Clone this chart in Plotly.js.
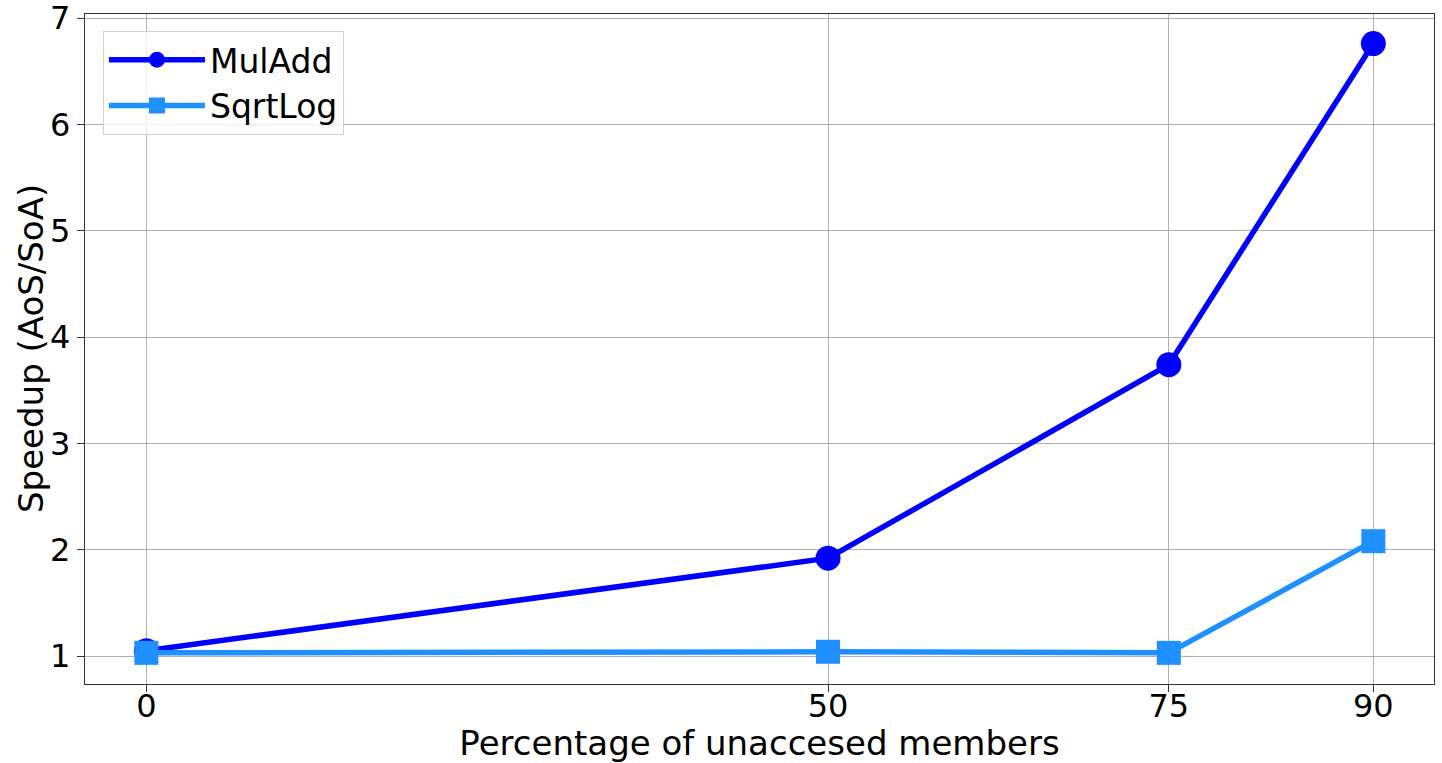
<!DOCTYPE html>
<html>
<head>
<meta charset="utf-8">
<script src="https://cdn.plot.ly/plotly-3.0.1.min.js"></script>
<style>html,body{margin:0;padding:0;background:#fff;}#chart{width:1442px;height:763px;}</style>
</head>
<body>
<div id="chart"></div>
<script>
const xValues = [0, 50, 75, 90];
const xTickLabels = ["0", "50", "75", "90"];
const mulAdd = [1.05, 1.92, 3.74, 6.76];
const sqrtLog = [1.03, 1.04, 1.03, 2.08];
const yTicks = [1, 2, 3, 4, 5, 6, 7];
const yTitle = "Speedup (AoS/SoA)";
const xTitle = "Percentage of unaccesed members";

const tickFont = {family: "DejaVu Sans, sans-serif", size: 32, color: "#000"};
const titleFont = {family: "DejaVu Sans, sans-serif", size: 34, color: "#000"};

const traces = [
  {x: xValues, y: mulAdd, name: "MulAdd", mode: "lines+markers",
   line: {color: "#0000ff", width: 5.5}, marker: {symbol: "circle", size: 25, color: "#0000ff"}},
  {x: xValues, y: sqrtLog, name: "SqrtLog", mode: "lines+markers",
   line: {color: "#1e90ff", width: 5.5}, marker: {symbol: "square", size: 24, color: "#1e90ff"}}
];

const layout = {
  width: 1442, height: 763,
  margin: {l: 85, r: 8, t: 14, b: 79},
  paper_bgcolor: "#fff", plot_bgcolor: "#fff",
  font: tickFont,
  showlegend: true,
  legend: {x: 0.0133, y: 0.975, xanchor: "left", yanchor: "top",
           bgcolor: "rgba(255,255,255,0.8)", bordercolor: "#d0d0d0", borderwidth: 1,
           font: {family: "DejaVu Sans, sans-serif", size: 33}, itemwidth: 96},
  xaxis: {
    range: [-4.5, 94.45], tickvals: xValues, ticktext: xTickLabels,
    showgrid: true, gridcolor: "#b0b0b0", gridwidth: 1,
    showline: true, linecolor: "#333", linewidth: 1.3, mirror: true,
    ticks: "outside", ticklen: 7, tickcolor: "#333", zeroline: false,
    tickfont: tickFont, ticklabeloverflow: "allow", ticklabelstandoff: -14,
    title: {text: xTitle, font: titleFont, standoff: 2}
  },
  yaxis: {
    range: [0.737, 7.038], tickvals: yTicks,
    showgrid: true, gridcolor: "#b0b0b0", gridwidth: 1,
    showline: true, linecolor: "#333", linewidth: 1.3, mirror: true,
    ticks: "outside", ticklen: 7, tickcolor: "#333", zeroline: false,
    tickfont: tickFont, ticklabeloverflow: "allow"
  },
  annotations: [{
    text: yTitle, xref: "paper", yref: "paper", x: 0, y: 0.5,
    xanchor: "center", yanchor: "middle", xshift: -54, textangle: -90,
    showarrow: false, font: titleFont
  }]
};

Plotly.newPlot("chart", traces, layout, {displayModeBar: false, staticPlot: true});
</script>
</body>
</html>
